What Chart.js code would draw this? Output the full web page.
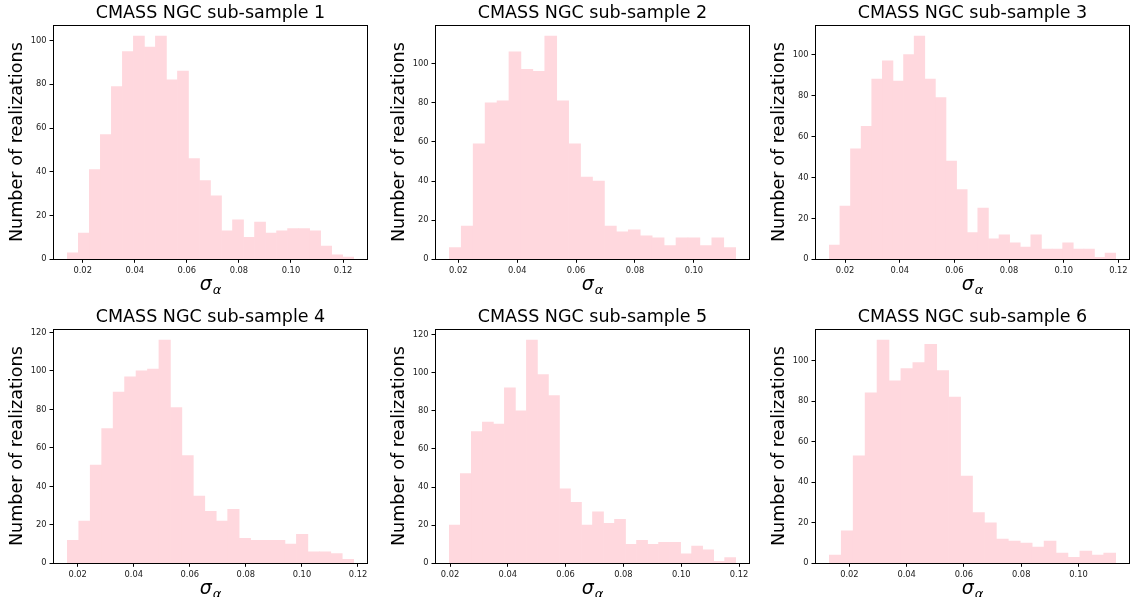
<!DOCTYPE html>
<html>
<head>
<meta charset="utf-8">
<script src="https://cdn.jsdelivr.net/npm/chart.js@4.4.0/dist/chart.umd.min.js"></script>
<style>
html,body{margin:0;padding:0;background:#fff;overflow:hidden;}
body{width:1132px;height:597px;position:relative;}
canvas{position:absolute;}
</style>
</head>
<body>
<script>
// ---------------- data ----------------
const panelTitles = [
  'CMASS NGC sub-sample 1','CMASS NGC sub-sample 2','CMASS NGC sub-sample 3',
  'CMASS NGC sub-sample 4','CMASS NGC sub-sample 5','CMASS NGC sub-sample 6'
];
const yAxisLabel = 'Number of realizations';
const xAxisLabelMain = 'σ';
const xAxisLabelSub = 'α';

// histogram counts (one value per bin)
const counts1 = [3,12,41,57,79,95,102,97,102,82,86,46,36,29,13,18,10,17,12,13,14,14,13,6,2,1];
const counts2 = [6,17,59,80,81,106,97,96,114,81,59,42,40,17,14,15,12,11,7,11,11,7,11,6];
const counts3 = [7,26,54,65,88,97,87,100,109,88,79,48,34,13,25,10,12,8,6,12,5,5,8,5,5,1,3];
const counts4 = [12,22,51,70,89,97,100,101,116,81,56,35,27,22,28,13,12,12,12,10,15,6,6,5,2];
const counts5 = [20,47,69,74,73,92,80,117,99,88,39,32,20,27,21,23,10,12,10,11,11,5,9,7,1,3];
const counts6 = [4,16,53,84,110,90,96,99,108,95,82,43,25,20,12,11,10,8,11,5,3,6,4,5];

// outer edges of the histogram (first bin low edge, last bin high edge)
const edges1 = [0.0141, 0.1241];
const edges2 = [0.01694, 0.1142];
const edges3 = [0.01424, 0.1190];
const edges4 = [0.01632, 0.11846];
const edges5 = [0.01976, 0.11885];
const edges6 = [0.0130, 0.1130];

// tick labels
const xTicks1 = [0.02,0.04,0.06,0.08,0.10,0.12];
const xTicks2 = [0.02,0.04,0.06,0.08,0.10];
const xTicks3 = [0.02,0.04,0.06,0.08,0.10,0.12];
const xTicks4 = [0.02,0.04,0.06,0.08,0.10,0.12];
const xTicks5 = [0.02,0.04,0.06,0.08,0.10,0.12];
const xTicks6 = [0.02,0.04,0.06,0.08,0.10];
const yTicks1 = [0,20,40,60,80,100];
const yTicks2 = [0,20,40,60,80,100];
const yTicks3 = [0,20,40,60,80,100];
const yTicks4 = [0,20,40,60,80,100,120];
const yTicks5 = [0,20,40,60,80,100,120];
const yTicks6 = [0,20,40,60,80,100];

const panels = [
  {title: panelTitles[0], counts: counts1, edges: edges1, xTicks: xTicks1, yTicks: yTicks1},
  {title: panelTitles[1], counts: counts2, edges: edges2, xTicks: xTicks2, yTicks: yTicks2},
  {title: panelTitles[2], counts: counts3, edges: edges3, xTicks: xTicks3, yTicks: yTicks3},
  {title: panelTitles[3], counts: counts4, edges: edges4, xTicks: xTicks4, yTicks: yTicks4},
  {title: panelTitles[4], counts: counts5, edges: edges5, xTicks: xTicks5, yTicks: yTicks5},
  {title: panelTitles[5], counts: counts6, edges: edges6, xTicks: xTicks6, yTicks: yTicks6}
];

// ---------------- layout / style ----------------
const FONT = '"DejaVu Sans", "Liberation Sans", sans-serif';
const BAR_COLOR = 'rgb(255,216,222)';
const colLeft = [0, 382, 762];
const rowTop = [0, 304];
const rowHeight = [298, 293];
const rowPlotBottom = [259.3, 259.3]; // relative to canvas top
const CANVAS_W = 372;
const Y_SCALE_W = 53;
const RIGHT_PAD = 4;

const framePlugin = {
  id: 'frame',
  afterDraw(chart) {
    const {ctx, chartArea: a} = chart;
    ctx.save();
    ctx.strokeStyle = '#000';
    ctx.lineWidth = 1;
    ctx.strokeRect(Math.round(a.left) + 0.5, Math.round(a.top) + 0.5,
                   Math.round(a.right - a.left) - 1, Math.round(a.bottom - a.top));
    ctx.restore();
  }
};

const sigmaPlugin = {
  id: 'sigmaLabel',
  afterDraw(chart) {
    const {ctx, chartArea: a} = chart;
    ctx.save();
    ctx.fillStyle = '#000';
    ctx.textBaseline = 'alphabetic';
    ctx.textAlign = 'left';
    const fMain = 'italic 19px ' + FONT;
    const fSub = 'italic 13px ' + FONT;
    ctx.font = fMain;
    const wm = ctx.measureText(xAxisLabelMain).width;
    ctx.font = fSub;
    const ws = ctx.measureText(xAxisLabelSub).width;
    const cx = (a.left + a.right) / 2;
    const x0 = cx - (wm + ws + 1) / 2;
    const base = a.bottom + 31;
    ctx.font = fMain;
    ctx.fillText(xAxisLabelMain, x0, base);
    ctx.font = fSub;
    ctx.fillText(xAxisLabelSub, x0 + wm + 1, base + 4);
    ctx.restore();
  }
};

panels.forEach((p, k) => {
  const row = Math.floor(k / 3), col = k % 3;
  const cv = document.createElement('canvas');
  cv.width = CANVAS_W;
  cv.height = rowHeight[row];
  cv.style.left = colLeft[col] + 'px';
  cv.style.top = rowTop[row] + 'px';
  cv.style.width = CANVAS_W + 'px';
  cv.style.height = rowHeight[row] + 'px';
  document.body.appendChild(cv);

  const n = p.counts.length;
  const span = p.edges[1] - p.edges[0];
  const bw = span / n;
  const pts = p.counts.map((c, i) => ({x: p.edges[0] + (i + 0.5) * bw, y: c}));
  const xmin = p.edges[0] - 0.05 * span;
  const xmax = p.edges[1] + 0.05 * span;
  const ymax = 1.05 * Math.max(...p.counts);
  const xH = rowHeight[row] - rowPlotBottom[row];

  new Chart(cv, {
    type: 'bar',
    data: {
      datasets: [{
        data: pts,
        backgroundColor: BAR_COLOR,
        borderWidth: 0,
        barPercentage: 1,
        categoryPercentage: 1
      }]
    },
    options: {
      responsive: false,
      animation: false,
      devicePixelRatio: 1,
      layout: {padding: {left: 0, right: RIGHT_PAD, top: 0, bottom: 0}},
      plugins: {
        legend: {display: false},
        tooltip: {enabled: false},
        title: {
          display: true,
          text: p.title,
          fullSize: false,
          color: '#000',
          font: {family: FONT, size: 17.5, weight: 'normal', lineHeight: 1.2},
          padding: {top: 3, bottom: 1}
        }
      },
      scales: {
        x: {
          type: 'linear',
          min: xmin,
          max: xmax,
          offset: false,
          afterBuildTicks: (s) => { s.ticks = p.xTicks.map(v => ({value: v})); },
          afterFit: (s) => { s.height = xH; },
          grid: {display: true, drawOnChartArea: false, drawTicks: true, tickLength: 3.5,
                 tickColor: '#000', offset: false, color: '#000'},
          border: {display: false},
          ticks: {
            color: '#222', padding: 3, maxRotation: 0, autoSkip: false,
            font: {family: FONT, size: 8.3},
            callback: (v) => Number(v).toFixed(2)
          }
        },
        y: {
          type: 'linear',
          min: 0,
          max: ymax,
          afterBuildTicks: (s) => { s.ticks = p.yTicks.map(v => ({value: v})); },
          afterFit: (s) => { s.width = Y_SCALE_W; },
          grid: {display: true, drawOnChartArea: false, drawTicks: true, tickLength: 3.5,
                 tickColor: '#000', color: '#000'},
          border: {display: false},
          ticks: {
            color: '#222', padding: 3, autoSkip: false,
            font: {family: FONT, size: 8.3},
            callback: (v) => String(Math.round(v))
          },
          title: {
            display: true,
            text: yAxisLabel,
            color: '#000',
            font: {family: FONT, size: 17.6, weight: 'normal', lineHeight: 1.2},
            padding: {top: 7, bottom: 0}
          }
        }
      }
    },
    plugins: [framePlugin, sigmaPlugin]
  });
});
</script>
</body>
</html>
